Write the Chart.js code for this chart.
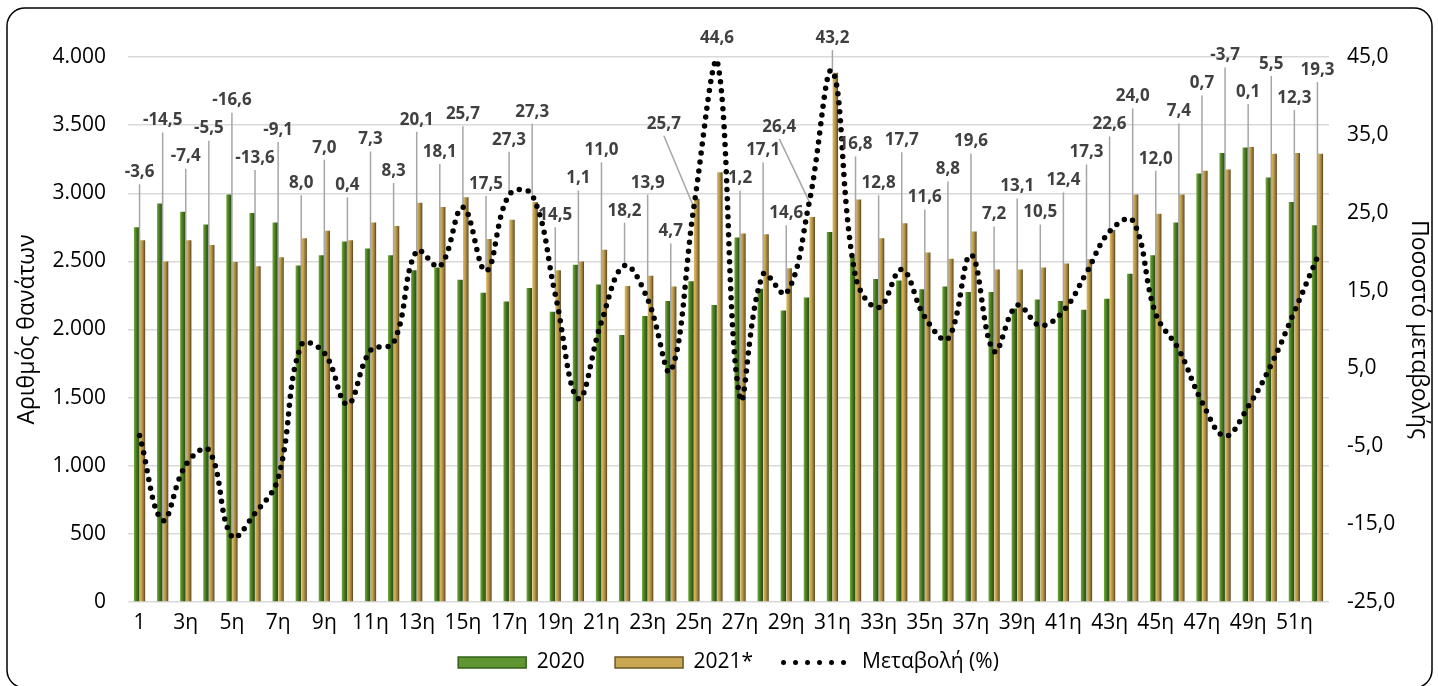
<!DOCTYPE html>
<html lang="el">
<head>
<meta charset="utf-8">
<title>Θάνατοι ανά εβδομάδα 2020 - 2021</title>
<script src="https://cdn.jsdelivr.net/npm/chart.js@4.4.1/dist/chart.umd.min.js"></script>
<style>
  html, body { margin: 0; padding: 0; background: #fff; }
  #wrap { width: 1438px; height: 686px; }
</style>
</head>
<body>
<div id="wrap"><canvas id="chart"></canvas></div>
<script>
const weeks = ['1', '2η', '3η', '4η', '5η', '6η', '7η', '8η', '9η', '10η', '11η', '12η', '13η',
  '14η', '15η', '16η', '17η', '18η', '19η', '20η', '21η', '22η', '23η', '24η', '25η', '26η',
  '27η', '28η', '29η', '30η', '31η', '32η', '33η', '34η', '35η', '36η', '37η', '38η', '39η',
  '40η', '41η', '42η', '43η', '44η', '45η', '46η', '47η', '48η', '49η', '50η', '51η', '52η'];

const deaths2020 = [2750, 2925, 2865, 2770, 2990, 2855, 2785, 2470, 2545, 2645, 2595, 2545, 2435,
  2455, 2365, 2270, 2205, 2305, 2130, 2475, 2330, 1960, 2100, 2210, 2355, 2180,
  2675, 2300, 2140, 2235, 2715, 2530, 2370, 2360, 2295, 2315, 2275, 2275, 2155,
  2220, 2210, 2145, 2225, 2410, 2545, 2785, 3145, 3295, 3335, 3115, 2935, 2765];

const deaths2021 = [2655, 2500, 2655, 2620, 2495, 2465, 2530, 2670, 2725, 2655, 2785, 2760, 2930,
  2900, 2970, 2665, 2805, 2935, 2435, 2500, 2585, 2320, 2395, 2315, 2960, 3155,
  2705, 2700, 2450, 2825, 3885, 2955, 2670, 2780, 2565, 2520, 2720, 2440, 2440,
  2455, 2485, 2515, 2730, 2990, 2850, 2990, 3165, 3175, 3340, 3290, 3295, 3290];

const changePct = [-3.6, -14.5, -7.4, -5.5, -16.6, -13.6, -9.1, 8.0, 7.0, 0.4, 7.3, 8.3, 20.1,
  18.1, 25.7, 17.5, 27.3, 27.3, 14.5, 1.1, 11.0, 18.2, 13.9, 4.7, 25.7, 44.6,
  1.2, 17.1, 14.6, 26.4, 43.2, 16.8, 12.8, 17.7, 11.6, 8.8, 19.6, 7.2, 13.1,
  10.5, 12.4, 17.3, 22.6, 24.0, 12.0, 7.4, 0.7, -3.7, 0.1, 5.5, 12.3, 19.3];

const FONT = '"Open Sans", "Noto Sans", sans-serif';

const comma = v => v.toFixed(1).replace('.', ',');
const thousands = v => String(v).replace(/\B(?=(\d{3})+(?!\d))/g, '.');

// bevel-ish look of the excel bars: horizontal gradient across each bar
function barFill(stops, side) {
  return (c) => {
    const chart = c.chart;
    const xs = chart.scales && chart.scales.x;
    if (c.type !== 'data' || !xs || !chart.chartArea) return stops[1][1];
    const cx = xs.getPixelForValue(c.dataIndex);
    const slot = xs.width / weeks.length * 0.5 / 2;
    const x0 = side < 0 ? cx - slot : cx;
    const g = chart.ctx.createLinearGradient(x0, 0, x0 + slot, 0);
    stops.forEach(s => g.addColorStop(s[0], s[1]));
    return g;
  };
}

// where the % labels go: above the tallest mark of the week, staggered when neighbours collide,
// moved aside (and up) when the line climbs straight through them
function labelSpots(chart) {
  const line = chart.getDatasetMeta(2).data;
  const b0 = chart.getDatasetMeta(0).data;
  const b1 = chart.getDatasetMeta(1).data;
  const spots = [];
  let prev = null;
  line.forEach((pt, i) => {
    const top = Math.min(b0[i].y, b1[i].y, pt.y);
    let y = Math.max(top - 55, 38);
    if (prev !== null && Math.abs(y - prev) < 24) y = Math.max(Math.min(y, prev) - 28, 38);
    let x = pt.x;
    const next = line[i + 1];
    if (next && next.y < y - 30) {
      x = pt.x - 30;
      y -= 20;
    }
    spots.push({ x: x, y: y, px: pt.x, py: pt.y });
    prev = y;
  });
  return spots;
}

const frame = {
  id: 'frame',
  beforeDraw(chart) {
    const ctx = chart.ctx;
    ctx.save();
    ctx.fillStyle = '#fff';
    ctx.fillRect(0, 0, chart.width, chart.height);
    ctx.strokeStyle = '#000';
    ctx.lineWidth = 1.5;
    ctx.beginPath();
    ctx.roundRect(7, 8, chart.width - 13, chart.height - 6, 18);
    ctx.stroke();
    ctx.restore();
  }
};

const pctLabels = {
  id: 'pctLabels',
  beforeDatasetDraw(chart, args) {
    if (args.index !== 2) return;
    const ctx = chart.ctx;
    ctx.save();
    ctx.strokeStyle = '#a6a6a6';
    ctx.lineWidth = 1.5;
    labelSpots(chart).forEach(s => {
      if (s.py - s.y < 26) return;
      ctx.beginPath();
      ctx.moveTo(s.x, s.y + 12);
      ctx.lineTo(s.px, s.py);
      ctx.stroke();
    });
    ctx.restore();
  },
  afterDatasetsDraw(chart) {
    const ctx = chart.ctx;
    ctx.save();
    ctx.font = 'bold 17px ' + FONT;
    ctx.fillStyle = '#404040';
    ctx.textAlign = 'center';
    ctx.textBaseline = 'middle';
    labelSpots(chart).forEach((s, i) => ctx.fillText(comma(changePct[i]), s.x, s.y));
    ctx.restore();
  }
};

new Chart(document.getElementById('chart'), {
  data: {
    labels: weeks,
    datasets: [
      {
        type: 'bar',
        label: '2020',
        data: deaths2020,
        yAxisID: 'y',
        order: 1,
        backgroundColor: barFill([[0, '#7cb246'], [0.3, '#558a29'], [0.65, '#3a661b'], [1, '#2a4a12']], -1),
        categoryPercentage: 0.5,
        barPercentage: 0.95
      },
      {
        type: 'bar',
        label: '2021*',
        data: deaths2021,
        yAxisID: 'y',
        order: 1,
        backgroundColor: barFill([[0, '#dcbc68'], [0.4, '#c09d4c'], [0.75, '#8a6f32'], [1, '#4a3b1c']], 1),
        categoryPercentage: 0.5,
        barPercentage: 0.95
      },
      {
        type: 'line',
        label: 'Μεταβολή (%)',
        data: changePct,
        yAxisID: 'y1',
        order: 0,
        borderColor: '#000',
        borderWidth: 5.5,
        borderDash: [0, 9],
        borderCapStyle: 'round',
        tension: 0.4,
        pointRadius: 0,
        fill: false
      }
    ]
  },
  options: {
    responsive: true,
    maintainAspectRatio: false,
    animation: false,
    layout: { padding: { left: 8, right: 2, top: 57, bottom: 3 } },
    plugins: {
      tooltip: { enabled: false },
      legend: {
        position: 'bottom',
        fullSize: false,
        labels: {
          font: { family: FONT, size: 21 },
          color: '#000',
          padding: 14,
          usePointStyle: true,
          pointStyleWidth: 68,
          boxHeight: 11,
          generateLabels(chart) {
            return chart.data.datasets.map((ds, i) => ({
              // trailing spaces widen the gap between legend entries
              text: i < 2 ? ds.label + '   ' : ds.label,
              datasetIndex: i,
              hidden: false,
              fontColor: '#000',
              fillStyle: i === 0 ? '#5f9632' : i === 1 ? '#c9a753' : 'transparent',
              strokeStyle: i === 0 ? '#35601a' : i === 1 ? '#6a5526' : '#000',
              lineWidth: i === 2 ? 5 : 1.5,
              lineDash: i === 2 ? [0, 12] : [],
              lineCap: i === 2 ? 'round' : 'butt',
              pointStyle: i === 2 ? 'line' : 'rect'
            }));
          }
        }
      }
    },
    scales: {
      x: {
        grid: { display: false, drawTicks: false },
        border: { display: false },
        ticks: {
          autoSkip: false,
          maxRotation: 0,
          padding: 8,
          color: '#000',
          font: { family: FONT, size: 21 },
          callback(v, i) { return i % 2 === 0 ? weeks[i] : ''; }
        },
        afterFit(s) { s.height = 36; }
      },
      y: {
        position: 'left',
        min: 0,
        max: 4000,
        grid: { color: '#d9d9d9', lineWidth: 1.5, drawTicks: false },
        border: { display: false },
        ticks: {
          stepSize: 500,
          padding: 22,
          color: '#000',
          font: { family: FONT, size: 21 },
          callback: v => thousands(v)
        },
        title: {
          display: true,
          text: 'Αριθμός θανάτων',
          color: '#000',
          padding: { top: 6, bottom: 4 },
          font: { family: FONT, size: 23 }
        },
        afterFit(s) { s.width = 120; }
      },
      y1: {
        position: 'right',
        min: -25,
        max: 45,
        grid: { display: false, drawTicks: false },
        border: { display: false },
        ticks: {
          stepSize: 10,
          padding: 18,
          color: '#000',
          font: { family: FONT, size: 21 },
          callback: v => comma(v)
        },
        title: {
          display: true,
          text: 'Ποσοστό μεταβολής',
          color: '#000',
          font: { family: FONT, size: 23 }
        },
        afterFit(s) { s.width = 107; }
      }
    }
  },
  plugins: [frame, pctLabels]
});
</script>
</body>
</html>
